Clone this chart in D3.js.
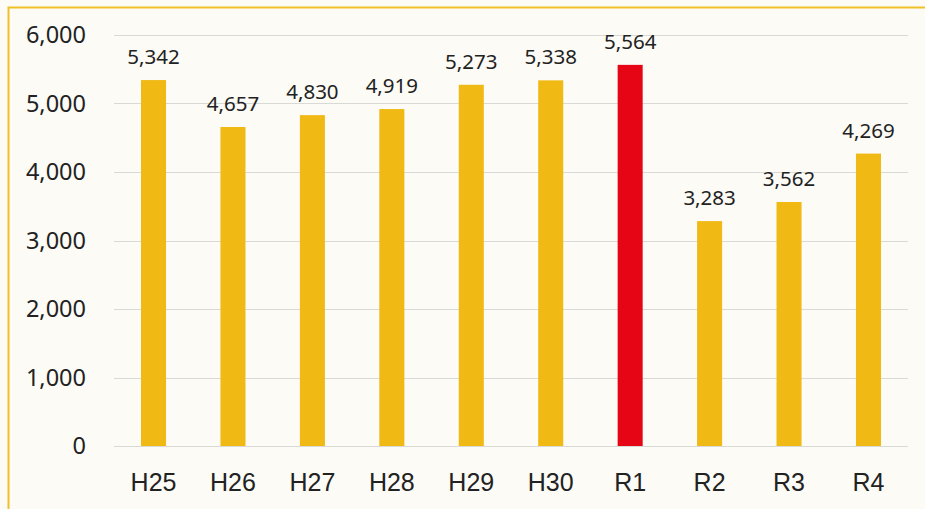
<!DOCTYPE html>
<html><head><meta charset="utf-8">
<script src="https://cdn.jsdelivr.net/npm/d3@7"></script>
<style>html,body{margin:0;padding:0;background:#fcfbf6;}svg{display:block;}</style>
</head><body>
<svg id="c" width="925" height="509"></svg>
<script>
const categories = ["H25","H26","H27","H28","H29","H30","R1","R2","R3","R4"];
const values = [5342,4657,4830,4919,5273,5338,5564,3283,3562,4269];
const highlight = ["R1"];
const yTicks = [0,1000,2000,3000,4000,5000,6000];

const svg = d3.select("#c");
svg.append("rect").attr("x",0).attr("y",0).attr("width",925).attr("height",509).attr("fill","#fcfbf6");
// frame
svg.append("path").attr("d","M8.5,509 L8.5,7.5 L925,7.5").attr("fill","none").attr("stroke","#f0c02a").attr("stroke-width",2);

const x = d3.scaleBand().domain(categories).range([114,908]).paddingInner(0.685).paddingOuter(0.34);
const y = d3.scaleLinear().domain([0,6000]).range([446,35]);

const fmt = d3.format(",");
const grid = svg.append("g");
grid.selectAll("line").data(yTicks).join("line")
  .attr("x1",114).attr("x2",908).attr("y1",d=>Math.round(y(d))+0.5).attr("y2",d=>Math.round(y(d))+0.5)
  .attr("stroke","#d9d9d5").attr("stroke-width",1);

const yAxis = d3.axisLeft(y).tickValues(yTicks).tickFormat(fmt).tickSize(0).tickPadding(0);
const ya = svg.append("g").attr("transform","translate(86,0)").call(yAxis);
ya.select(".domain").remove();
ya.selectAll("text").attr("font-family","'Noto Sans', 'Open Sans', sans-serif").attr("font-size",23.5).attr("fill","#222");

svg.append("g").selectAll("rect").data(categories).join("rect")
  .attr("x",d=>x(d)).attr("width",x.bandwidth())
  .attr("y",(d,i)=>y(values[i])).attr("height",(d,i)=>y(0)-y(values[i]))
  .attr("fill",d=>highlight.includes(d)?"#e60514":"#f0b914");

svg.append("g").selectAll("text").data(categories).join("text")
  .attr("x",d=>x(d)+x.bandwidth()/2).attr("y",(d,i)=>y(values[i])-16)
  .attr("text-anchor","middle").attr("font-family","'Noto Sans', 'Open Sans', sans-serif")
  .attr("font-size",20.5).attr("fill","#222").text((d,i)=>fmt(values[i]));

const xAxis = d3.axisBottom(x).tickSize(0).tickPadding(0);
const xa = svg.append("g").attr("transform","translate(0,471)").call(xAxis);
xa.select(".domain").remove();
xa.selectAll("text").attr("font-family","'Liberation Sans', Arial, sans-serif").attr("font-size",25).attr("fill","#222").attr("dy","0.8em");
</script>
</body></html>
